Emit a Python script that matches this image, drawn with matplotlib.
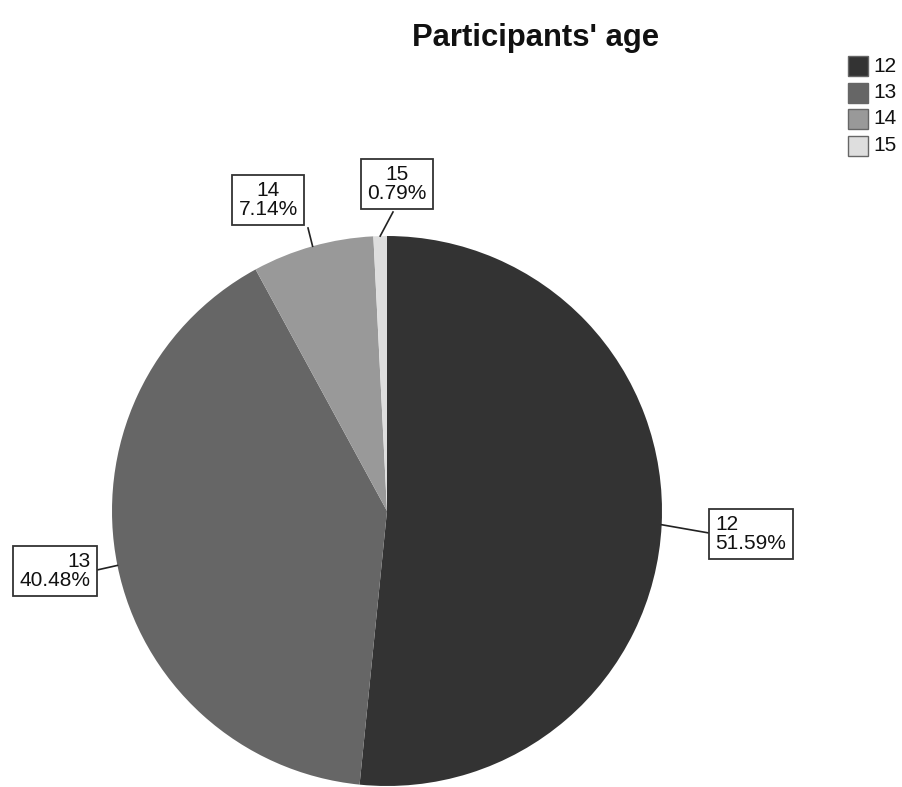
import matplotlib
matplotlib.use("Agg")
import matplotlib.pyplot as plt
import numpy as np
from matplotlib.patches import Rectangle

categories = ["12", "13", "14", "15"]
percentages = [51.59, 40.48, 7.14, 0.79]
colors = ["#333333", "#666666", "#999999", "#dedede"]
title = "Participants' age"

W, H = 902, 787
plt.rcParams['font.family'] = ['Liberation Sans', 'DejaVu Sans']
fig = plt.figure(figsize=(W / 100, H / 100), dpi=100)
ax = fig.add_axes([0, 0, 1, 1])
ax.set_xlim(0, W)
ax.set_ylim(0, H)
ax.axis('off')

def Y(y):
    return H - y

cx, cy, r = 387, 511, 275
wedges, _ = ax.pie(percentages, colors=colors, startangle=90, counterclock=False,
                   center=(cx, Y(cy)), radius=r, wedgeprops=dict(linewidth=0))
ax.set_xlim(0, W)
ax.set_ylim(0, H)
ax.set_aspect('equal')

# label box positions (pixel coordinates of box centres) and line endpoints
box_centers = [(751, 534), (55, 571), (268, 200), (397, 184)]
line_ends = [(709, 533), (97, 570), (308, 228), (393, 212)]
aligns = ['left', 'right', 'center', 'center']

for w, pct, cat, bc, le, al in zip(wedges, percentages, categories, box_centers, line_ends, aligns):
    ang = np.deg2rad((w.theta1 + w.theta2) / 2)
    ex, ey = cx + r * np.cos(ang), Y(cy) + r * np.sin(ang)
    ax.plot([ex, le[0]], [ey, Y(le[1])], color='#222222', lw=1.2, zorder=3)
    ax.text(bc[0], Y(bc[1]), f"{cat}\n{pct:.2f}%", ha='center', va='center',
            multialignment=al, fontsize=15, linespacing=1.0, color='#111111', zorder=5,
            bbox=dict(boxstyle='square,pad=0.3', facecolor='white', edgecolor='#333333', linewidth=1.3))

ax.text(536, Y(38), title, ha='center', va='center', fontsize=22.3, fontweight='bold', color='#111111')

# legend
for i, (cat, col) in enumerate(zip(categories, colors)):
    y0 = 56 + i * 26.5
    ax.add_patch(Rectangle((848, Y(y0 + 20)), 20, 20, facecolor=col, edgecolor='#666666', lw=1))
    ax.text(873, Y(y0 + 10), cat, ha='left', va='center', fontsize=15, color='#111111')

fig.savefig("out.png", dpi=100)
